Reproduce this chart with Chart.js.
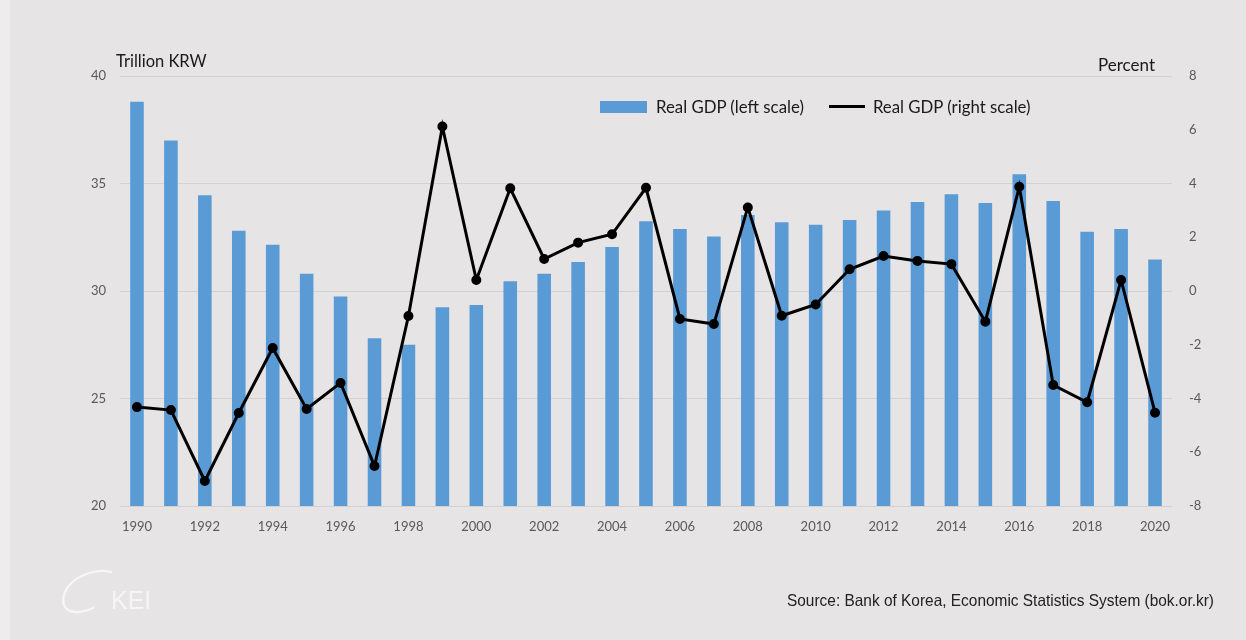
<!DOCTYPE html>
<html>
<head>
<meta charset="utf-8">
<script src="https://cdn.jsdelivr.net/npm/chart.js@4.4.0/dist/chart.umd.min.js"></script>
<style>
  html, body { margin: 0; padding: 0; }
  body { width: 1246px; height: 640px; background: #e6e4e5; position: relative; overflow: hidden; font-family: Lato, "Open Sans", sans-serif; }
  #strip { position: absolute; left: 0; top: 0; width: 10px; height: 640px; background: #eeeded; }
  #wrap { position: absolute; left: 0; top: 0; width: 1246px; height: 640px; }
  .lbl { position: absolute; color: #1a1a1a; white-space: nowrap; }
  #ytl { left: 116px; top: 51px; font-size: 16.5px; }
  #ytr { left: 1098px; top: 54px; font-size: 17px; }
  #legend { position: absolute; left: 600px; top: 96px; font-size: 16.8px; color: #1a1a1a; display: flex; align-items: center; white-space: nowrap; }
  #legend .box { width: 47px; height: 12px; background: #5b9bd5; margin-right: 9px; }
  #legend .ln { width: 36px; height: 3px; background: #000; margin-left: 25px; margin-right: 8px; }
  #source { position: absolute; left: 787px; top: 591px; font-family: "Liberation Sans", Arial, sans-serif; font-size: 16.5px; color: #222; white-space: nowrap; transform: scaleX(0.935); transform-origin: 0 0; }
  #logo { position: absolute; left: 56px; top: 568px; width: 110px; height: 50px; }
  #logo .t { position: absolute; left: 55px; top: 18px; color: #f6f6f6; font-family: "Liberation Sans", sans-serif; font-size: 25px; font-weight: 300; }
</style>
</head>
<body>
<div id="strip"></div>
<div id="wrap"><canvas id="c" width="1246" height="640"></canvas></div>
<div class="lbl" id="ytl">Trillion KRW</div>
<div class="lbl" id="ytr">Percent</div>
<div id="legend"><div class="box"></div><span>Real GDP (left scale)</span><div class="ln"></div><span>Real GDP (right scale)</span></div>
<div id="source">Source: Bank of Korea, Economic Statistics System (bok.or.kr)</div>
<div id="logo">
  <svg width="60" height="50" style="position:absolute;left:0;top:0">
    <path d="M55 4 C 40 0, 16 8, 9 24 C 4 37, 10 45, 23 44 C 29 43, 33 42, 37 40" fill="none" stroke="#f6f6f6" stroke-width="2.4" stroke-linecap="round"/>
  </svg>
  <div class="t">KEI</div>
</div>
<script>
const years = ["1990","1991","1992","1993","1994","1995","1996","1997","1998","1999","2000","2001","2002","2003","2004","2005","2006","2007","2008","2009","2010","2011","2012","2013","2014","2015","2016","2017","2018","2019","2020"];
const gdpLevel = [38.8,37.0,34.45,32.8,32.15,30.8,29.75,27.8,27.5,29.25,29.35,30.45,30.8,31.35,32.05,33.25,32.88,32.53,33.53,33.2,33.08,33.3,33.74,34.14,34.5,34.09,35.43,34.19,32.76,32.88,31.47];
const gdpRate = [-4.32,-4.43,-7.07,-4.54,-2.12,-4.39,-3.42,-6.51,-0.93,6.12,0.41,3.82,1.19,1.8,2.11,3.84,-1.04,-1.23,3.11,-0.92,-0.5,0.81,1.3,1.12,1.0,-1.14,3.88,-3.5,-4.14,0.41,-4.53];
const leftTicks = [20,25,30,35,40];
const rightTicks = [-8,-6,-4,-2,0,2,4,6,8];

const tickFont = { family: "Lato, 'Open Sans', sans-serif", size: 13 };
const tickColor = "#595959";

new Chart(document.getElementById("c"), {
  data: {
    labels: years,
    datasets: [
      { type: "line", label: "Real GDP (right scale)", data: gdpRate, yAxisID: "yR", order: 0,
        borderColor: "#000", backgroundColor: "#000", borderWidth: 3, pointRadius: 3.5,
        pointBackgroundColor: "#000", pointBorderColor: "#000", tension: 0 },
      { type: "bar", label: "Real GDP (left scale)", data: gdpLevel, yAxisID: "yL", order: 1,
        backgroundColor: "#5b9bd5", barPercentage: 0.4, categoryPercentage: 1.0 }
    ]
  },
  options: {
    responsive: false,
    animation: false,
    layout: { padding: { left: 80, right: 24, top: 76, bottom: 104 } },
    plugins: { legend: { display: false }, tooltip: { enabled: false } },
    scales: {
      x: {
        offset: true,
        grid: { display: false, drawTicks: false },
        border: { display: false },
        ticks: {
          autoSkip: false, maxRotation: 0, padding: 13, color: tickColor, font: tickFont,
          callback: function(v, i) { return (i % 2 === 0) ? years[i] : ""; }
        },
        afterFit: function(s) { s.height = 30; }
      },
      yL: {
        position: "left", min: 20, max: 40,
        afterBuildTicks: function(s) { s.ticks = leftTicks.map(v => ({ value: v })); },
        grid: { color: "#d3d1d2", lineWidth: 1, drawTicks: false },
        border: { display: false },
        ticks: { padding: 14, color: tickColor, font: tickFont },
        afterFit: function(s) { s.width = 40; }
      },
      yR: {
        position: "right", min: -8, max: 8,
        afterBuildTicks: function(s) { s.ticks = rightTicks.map(v => ({ value: v })); },
        grid: { display: false, drawTicks: false },
        border: { display: false },
        ticks: { padding: 17, color: tickColor, font: tickFont },
        afterFit: function(s) { s.width = 50; }
      }
    }
  }
});
</script>
</body>
</html>
